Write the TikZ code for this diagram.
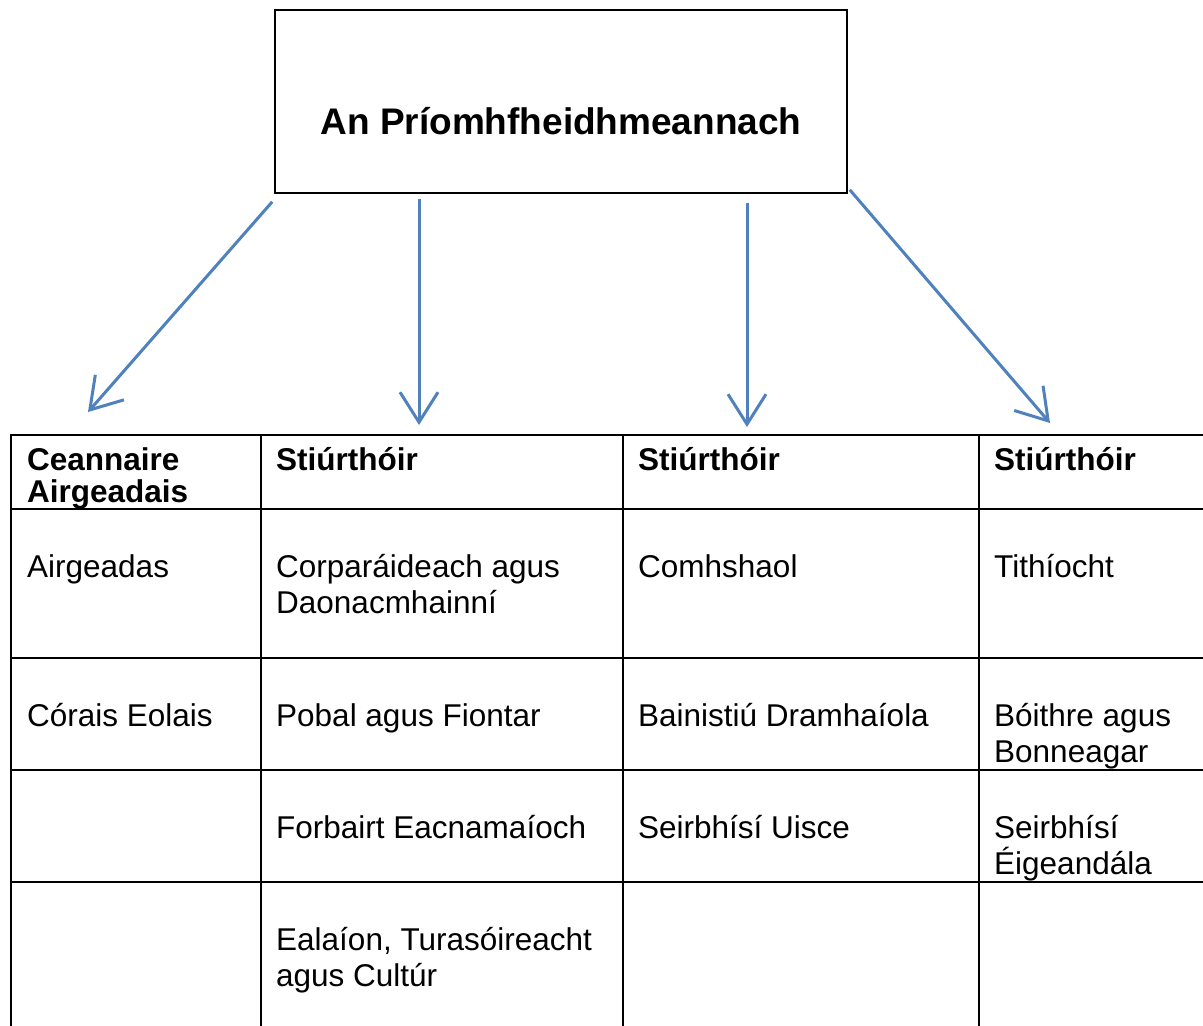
\documentclass[tikz,border=0pt]{standalone}
\usepackage{fontspec}
\setmainfont{Liberation Sans}
\usetikzlibrary{arrows.meta}
\definecolor{linkblue}{RGB}{79,129,189}
\newcommand\Stack[1]{\begin{tabular}[t]{@{}l@{}}#1\end{tabular}}

\begin{document}
\begin{tikzpicture}[x=1pt,y=-1pt,
  rule/.style={line width=2pt},
  cell/.style={anchor=base west,inner sep=0pt,
    font=\fontsize{31.5}{36}\selectfont},
  head/.style={cell,font=\fontsize{31.5}{31.5}\selectfont\bfseries},
  link/.style={draw=linkblue,line width=3pt,
    -{Straight Barb[length=30pt,width=38pt]}}]
\useasboundingbox (0,0) rectangle (1203,1026);
\clip (0,0) rectangle (1203,1026);

% chief executive box
\node[draw,line width=1.5pt,minimum width=572pt,inner sep=0pt,
  text height=124pt,text depth=59pt,
  font=\fontsize{37}{44}\selectfont\bfseries]
  (chief) at (561,101.5) {An Príomhfheidhmeannach};

\coordinate (t1) at ([shift={(-2,8)}]chief.south west);
\coordinate (t2) at ([shift={(-142,5)}]chief.south);
\coordinate (t3) at ([shift={(186,9)}]chief.south);
\coordinate (t4) at ([shift={(2,-4)}]chief.south east);
\coordinate (h1) at (88,412);
\coordinate (h2) at (419,425);
\coordinate (h3) at (747,427);
\coordinate (h4) at (1050,423);
\foreach \i in {1,...,4}
  \draw[link] (t\i) -- (h\i);

% table
\foreach \y in {435,509,658,770,882}
  \draw[rule] (10,\y) -- (1203,\y);
\foreach \x in {11,261,623,979}
  \draw[rule] (\x,434) -- (\x,1026);

\node[head] (fin) at (27,470) {\Stack{Ceannaire\\Airgeadais}};
\node[head] (dirA) at (276,470) {Stiúrthóir};
\node[head] (dirB) at (638,470) {Stiúrthóir};
\node[head] (dirC) at (994,470) {Stiúrthóir};

\node[cell] (finA) at (27,577) {Airgeadas};
\node[cell] (finB) at (27,726) {Córais Eolais};

\node[cell] (dirA1) at (276,577) {\Stack{Corparáideach agus\\Daonacmhainní}};
\node[cell] (dirA2) at (276,726) {Pobal agus Fiontar};
\node[cell] (dirA3) at (276,838) {Forbairt Eacnamaíoch};
\node[cell] (dirA4) at (276,950) {\Stack{Ealaíon, Turasóireacht\\agus Cultúr}};

\node[cell] (dirB1) at (638,577) {Comhshaol};
\node[cell] (dirB2) at (638,726) {Bainistiú Dramhaíola};
\node[cell] (dirB3) at (638,838) {Seirbhísí Uisce};

\node[cell] (dirC1) at (994,577) {Tithíocht};
\node[cell] (dirC2) at (994,726) {\Stack{Bóithre agus\\Bonneagar}};
\node[cell] (dirC3) at (994,838) {\Stack{Seirbhísí\\\smash{Éigeandála}}};
\end{tikzpicture}
\end{document}
